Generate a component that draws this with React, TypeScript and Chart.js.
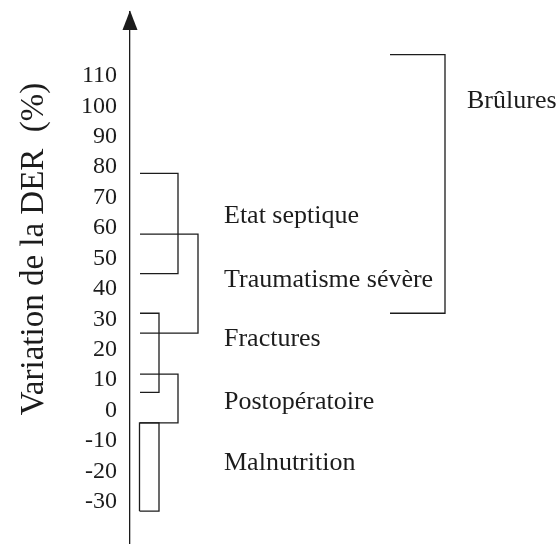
import React, { useEffect, useRef } from "react";
import { Chart, registerables } from "chart.js";

Chart.register(...registerables);

// ---- data ----
const categories = ["Brûlures", "Etat septique", "Traumatisme sévère", "Fractures", "Postopératoire", "Malnutrition"];
const rangeLow = [32, 45, 25.5, 6, -4, -33];
const rangeHigh = [117, 78, 58, 32, 12, -4];
const labelAt = [102.4, 64.6, 43.3, 24.1, 3.5, -16.7];
const tickValues = [110, 100, 90, 80, 70, 60, 50, 40, 30, 20, 10, 0, -10, -20, -30];
const axisTitle = "Variation de la DER  (%)";

// ---- layout / style (offsets from the axis, in px-like x units) ----
const bracketStart = [260, 10, 10, 10, 10, 9.5];
const bracketEnd = [315, 48, 68, 29, 48, 29];
const bracketClosed = [false, false, false, false, false, true];
const labelOffset = [337, 94, 94, 94, 94, 94];
const SERIF = '"Liberation Serif", "Times New Roman", Times, serif';
const INK = "#1c1c1c";

export default function App() {
  const ref = useRef<HTMLCanvasElement | null>(null);

  useEffect(() => {
    document.body.style.margin = "0";
    document.body.style.background = "#ffffff";
    const canvas = ref.current;
    if (!canvas) return;

    const datasets = categories.map((name, i) => {
      const x0 = bracketStart[i];
      const x1 = bracketEnd[i];
      const lo = rangeLow[i];
      const hi = rangeHigh[i];
      const pts = [
        { x: x0, y: lo },
        { x: x1, y: lo },
        { x: x1, y: hi },
        { x: x0, y: hi },
      ];
      if (bracketClosed[i]) pts.push({ x: x0, y: lo });
      return {
        label: name,
        data: pts,
        showLine: true,
        borderColor: INK,
        borderWidth: 1.3,
        pointRadius: 0,
        tension: 0,
        fill: false,
        borderJoinStyle: "miter" as const,
        clip: false as const,
      };
    });

    const decor = {
      id: "decor",
      afterDraw(chart: any) {
        const ctx = chart.ctx as CanvasRenderingContext2D;
        const ys = chart.scales.y;
        const xs = chart.scales.x;
        const axisX = chart.chartArea.left;
        ctx.save();
        // arrow head
        ctx.fillStyle = INK;
        ctx.beginPath();
        ctx.moveTo(axisX, chart.chartArea.top - 1.5);
        ctx.lineTo(axisX - 7.5, chart.chartArea.top + 18);
        ctx.lineTo(axisX + 7.5, chart.chartArea.top + 18);
        ctx.closePath();
        ctx.fill();

        // category labels
        const fs = 26;
        ctx.font = `${fs}px ${SERIF}`;
        ctx.fillStyle = INK;
        ctx.textAlign = "left";
        ctx.textBaseline = "alphabetic";
        categories.forEach((name, i) => {
          const px = xs.getPixelForValue(labelOffset[i]);
          const py = ys.getPixelForValue(labelAt[i]) + fs * 0.33;
          ctx.fillText(name, px, py);
        });

        // axis title (vertical)
        const tfs = 33;
        ctx.font = `${tfs}px ${SERIF}`;
        ctx.translate(43, 249);
        ctx.rotate(-Math.PI / 2);
        ctx.textAlign = "center";
        ctx.fillText(axisTitle, 0, 0);
        ctx.restore();
      },
    };

    const chart = new Chart(canvas, {
      type: "scatter",
      data: { datasets },
      options: {
        animation: false,
        responsive: false,
        events: [],
        layout: { padding: { top: 12, bottom: 1, left: 0, right: 0 } },
        plugins: { legend: { display: false }, tooltip: { enabled: false }, title: { display: false } },
        scales: {
          x: { type: "linear", display: false, min: 0, max: 430 },
          y: {
            type: "linear",
            min: -43.5,
            max: 131,
            grid: { display: false, drawTicks: false },
            border: { display: true, color: INK, width: 1.3 },
            ticks: {
              autoSkip: false,
              padding: 13,
              color: INK,
              font: { family: SERIF, size: 24 },
              callback: (v: any) => String(v),
            },
            afterBuildTicks: (scale: any) => {
              scale.ticks = tickValues.map((v) => ({ value: v }));
            },
            afterFit: (scale: any) => {
              scale.width = 130;
              scale.paddingTop = 0;
              scale.paddingBottom = 0;
              scale.paddingLeft = 0;
              scale.paddingRight = 0;
            },
          },
        },
      },
      plugins: [decor],
    });

    return () => chart.destroy();
  }, []);

  return <canvas ref={ref} width={560} height={544} style={{ display: "block" }} />;
}
